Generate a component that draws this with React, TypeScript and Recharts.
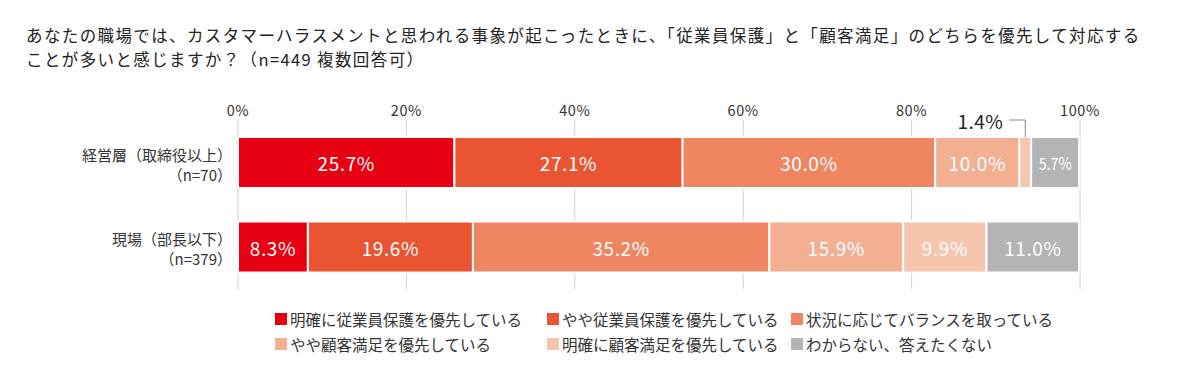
import React from 'react';
import { BarChart, Bar, XAxis, YAxis, CartesianGrid, LabelList } from 'recharts';

const categories = ['経営層（取締役以上）', '現場（部長以下）'];
const sampleSizes = ['（n=70）', '（n=379）'];
const seriesNames = [
  '明確に従業員保護を優先している',
  'やや従業員保護を優先している',
  '状況に応じてバランスを取っている',
  'やや顧客満足を優先している',
  '明確に顧客満足を優先している',
  'わからない、答えたくない',
];
const seriesColors = ['#e60012', '#e95532', '#ef8661', '#f3af91', '#f6c5ae', '#b4b4b4'];
const clearlyEmployee = [25.7, 8.3];
const somewhatEmployee = [27.1, 19.6];
const balance = [30.0, 35.2];
const somewhatCustomer = [10.0, 15.9];
const clearlyCustomer = [1.4, 9.9];
const unknown = [5.7, 11.0];
const xTicks = [0, 20, 40, 60, 80, 100];
const titleLines = [
  'あなたの職場では、カスタマーハラスメントと思われる事象が起こったときに、「従業員保護」と「顧客満足」のどちらを優先して対応する',
  'ことが多いと感じますか？（n=449 複数回答可）',
];

const seriesValues = [clearlyEmployee, somewhatEmployee, balance, somewhatCustomer, clearlyCustomer, unknown];
const data = categories.map((name, i) => {
  const row: any = { name, n: sampleSizes[i] };
  seriesValues.forEach((vals, s) => {
    row['s' + s] = vals[i];
  });
  return row;
});

const FONT = '"Noto Sans CJK JP", "Noto Sans", sans-serif';

const XTick = (props: any) => {
  const { x, y, payload } = props;
  return (
    <text x={x} y={y - 1} textAnchor="middle" dominantBaseline="central" fontSize={14.5} fill="#333" fontFamily={FONT} letterSpacing={0.6}>
      {payload.value}%
    </text>
  );
};

const YTick = (props: any) => {
  const { x, y, payload, index } = props;
  const n = sampleSizes[index] ?? '';
  return (
    <text x={x} textAnchor="end" fontSize={15} fill="#333" fontFamily={FONT}>
      <tspan x={x} y={y - 8} dominantBaseline="central">{payload.value}</tspan>
      <tspan x={x} y={y + 12} dominantBaseline="central">{n}</tspan>
    </text>
  );
};

const SegmentLabel = (props: any) => {
  const { x, y, width, height, value } = props;
  if (value == null) return null;
  const cx = x + width / 2;
  const cy = y + height / 2;
  const txt = `${Number(value).toFixed(1)}%`;
  if (width < 20) {
    const top = y;
    const ly = top - 17;
    return (
      <g>
        <path d={`M${cx},${top} L${cx},${ly} L${cx - 16},${ly}`} stroke="#888" strokeWidth={1} fill="none" />
        <text x={cx - 22} y={ly} textAnchor="end" dominantBaseline="central" fontSize={19} fill="#222" fontFamily={FONT} letterSpacing={0.5}>
          {txt}
        </text>
      </g>
    );
  }
  const narrow = width < 60;
  return (
    <text
      x={cx}
      y={cy}
      textAnchor="middle"
      dominantBaseline="central"
      fontSize={narrow ? 17 : 19}
      fill="#fff"
      fontFamily={FONT}
      letterSpacing={narrow ? 0 : 0.6}
      {...(narrow ? { textLength: 33, lengthAdjust: 'spacingAndGlyphs' } : {})}
    >
      {txt}
    </text>
  );
};

export default function App() {
  return (
    <div style={{ position: 'absolute', left: 0, top: 0, width: 1181, height: 383, background: '#fff', fontFamily: FONT, overflow: 'hidden' }}>
      <div style={{ position: 'absolute', left: 26, top: 23, fontSize: 16.5, letterSpacing: 1.38, lineHeight: '24px', color: '#222', whiteSpace: 'nowrap' }}>
        {titleLines.map((l, i) => (
          <div key={i}>{l}</div>
        ))}
      </div>
      <div style={{ position: 'absolute', left: 0, top: 0 }}>
        <BarChart width={1181} height={383} data={data} layout="vertical" margin={{ top: 90, right: 101, bottom: 94, left: 0 }}>
          <CartesianGrid horizontal={false} stroke="#d2d2d2" />
          <XAxis
            type="number"
            orientation="top"
            domain={[0, 100]}
            ticks={xTicks}
            height={30}
            axisLine={false}
            tickLine={false}
            tickSize={0}
            tickMargin={10}
            tick={<XTick />}
            interval={0}
          />
          <YAxis
            type="category"
            dataKey="name"
            width={238}
            axisLine={false}
            tickLine={false}
            tickSize={0}
            tickMargin={6}
            tick={<YTick />}
            interval={0}
          />
          {seriesNames.map((nm, s) => (
            <Bar
              key={s}
              dataKey={'s' + s}
              name={nm}
              stackId="a"
              fill={seriesColors[s]}
              stroke="#fff"
              strokeWidth={2}
              barSize={51}
              isAnimationActive={false}
            >
              <LabelList dataKey={'s' + s} content={<SegmentLabel />} />
            </Bar>
          ))}
        </BarChart>
      </div>
      <div
        style={{
          position: 'absolute',
          left: 275,
          top: 306,
          display: 'grid',
          gridTemplateColumns: '272px 244px 280px',
          gridAutoRows: '25px',
          fontSize: 15.5,
          color: '#333',
          whiteSpace: 'nowrap',
        }}
      >
        {seriesNames.map((nm, s) => (
          <div key={s} style={{ display: 'flex', alignItems: 'center', height: 25 }}>
            <span style={{ display: 'inline-block', width: 12, height: 12, background: seriesColors[s], marginRight: 3 }} />
            <span>{nm}</span>
          </div>
        ))}
      </div>
    </div>
  );
}
